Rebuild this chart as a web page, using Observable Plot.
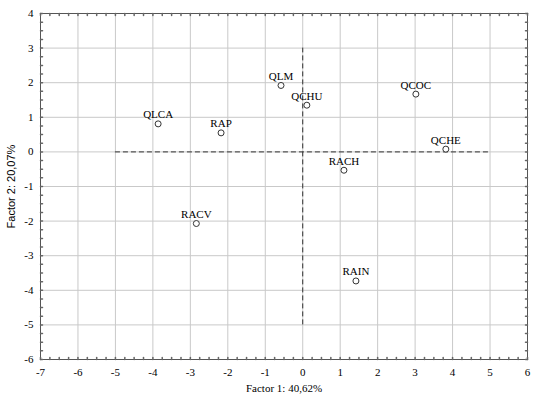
<!DOCTYPE html>
<html>
<head>
<meta charset="utf-8">
<script src="https://cdn.jsdelivr.net/npm/d3@7"></script>
<script src="https://cdn.jsdelivr.net/npm/@observablehq/plot@0.6"></script>
<style>
  html, body { margin: 0; padding: 0; background: #fff; }
  #chart svg { display: block; }
</style>
</head>
<body>
<div id="chart"></div>
<script>
// Variable names and factor coordinates
const names = ["QLCA", "RAP", "QLM", "QCHU", "RACH", "QCOC", "QCHE", "RACV", "RAIN"];
const factor1 = [-3.86, -2.18, -0.58, 0.11, 1.10, 3.02, 3.82, -2.84, 1.42];
const factor2 = [0.81, 0.55, 1.92, 1.35, -0.53, 1.67, 0.08, -2.07, -3.73];

// Axis ticks
const xTicks = [-7, -6, -5, -4, -3, -2, -1, 0, 1, 2, 3, 4, 5, 6];
const yTicks = [-6, -5, -4, -3, -2, -1, 0, 1, 2, 3, 4];
const xLabel = "Factor 1: 40,62%";
const yLabel = "Factor 2: 20,07%";

// Dashed reference lines
const hLines = [{ y: 0, x1: -5, x2: 5 }];
const vLines = [{ x: 0, y1: -5, y2: 3 }];

const points = names.map((n, i) => ({ name: n, f1: factor1[i], f2: factor2[i] }));
const xMinor = d3.range(xTicks[0], xTicks[xTicks.length - 1] + 0.001, 0.25);
const yMinor = d3.range(yTicks[0], yTicks[yTicks.length - 1] + 0.001, 0.25);

const tickShape = { draw(context, l) { context.moveTo(0, 0); context.lineTo(0, -l); } };
const serif = "'Liberation Serif', 'Times New Roman', serif";
const sans = "'Liberation Sans', Arial, sans-serif";
const fmt = d => String(d);

const tickOpts = { length: 2, anchor: "start", shape: tickShape, stroke: "#666" };
const frameTicks = [
  Plot.vectorX(xMinor, { x: d => d, frameAnchor: "bottom", rotate: 0, ...tickOpts }),
  Plot.vectorX(xMinor, { x: d => d, frameAnchor: "top", rotate: 180, ...tickOpts }),
  Plot.vectorY(yMinor, { y: d => d, frameAnchor: "left", rotate: 90, ...tickOpts }),
  Plot.vectorY(yMinor, { y: d => d, frameAnchor: "right", rotate: -90, ...tickOpts })
];

const chart = Plot.plot({
  width: 536,
  height: 402,
  marginLeft: 40,
  marginRight: 9,
  marginTop: 13,
  marginBottom: 43,
  style: { background: "#fff", color: "#000" },
  x: { domain: [-7, 6] },
  y: { domain: [-6, 4] },
  marks: [
    Plot.gridX(xTicks, { stroke: "#c9c9c9", strokeOpacity: 1 }),
    Plot.gridY(yTicks, { stroke: "#c9c9c9", strokeOpacity: 1 }),
    Plot.ruleY(hLines, { y: "y", x1: "x1", x2: "x2", stroke: "#333", strokeDasharray: "5,3" }),
    Plot.ruleX(vLines, { x: "x", y1: "y1", y2: "y2", stroke: "#333", strokeDasharray: "5,3" }),
    Plot.frame({ stroke: "#555" }),
    ...frameTicks,
    Plot.axisX(xTicks, { anchor: "bottom", tickSize: 0, tickPadding: 9, tickFormat: fmt, fontFamily: serif, fontSize: 11, label: xLabel, labelAnchor: "center", labelArrow: "none", labelOffset: 32 }),
    Plot.axisY(yTicks, { anchor: "left", tickSize: 0, tickPadding: 7, tickFormat: fmt, fontFamily: serif, fontSize: 11, label: null }),
    Plot.axisY([0], { anchor: "left", tickSize: 0, tickFormat: () => "", fontFamily: sans, fontSize: 11, label: yLabel, labelAnchor: "center", labelArrow: "none", labelOffset: 33 }),
    Plot.dot(points, { x: "f1", y: "f2", r: 3, stroke: "#333", fill: "#fff", strokeWidth: 1 }),
    Plot.text(points, { x: "f1", y: "f2", text: "name", dy: -9, fontFamily: serif, fontSize: 11, fill: "#000" })
  ]
});
document.getElementById("chart").appendChild(chart);
</script>
</body>
</html>
